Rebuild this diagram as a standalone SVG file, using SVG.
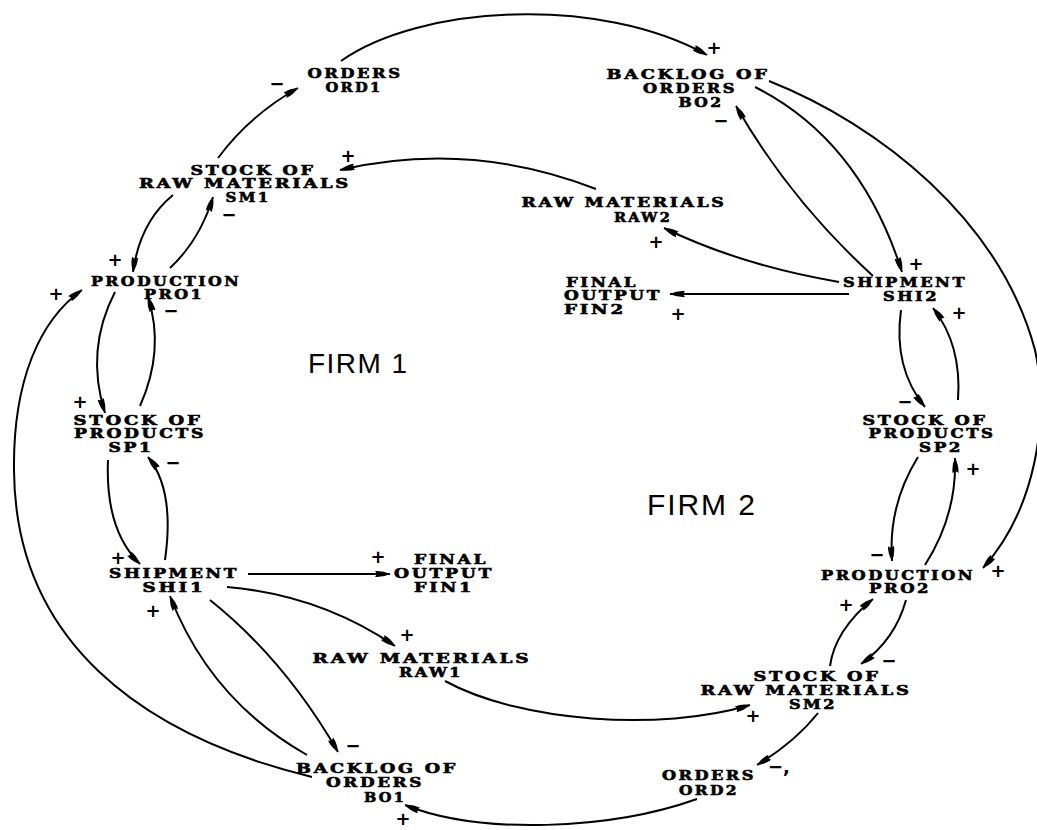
<svg xmlns="http://www.w3.org/2000/svg" width="1037" height="830" viewBox="0 0 1037 830">
<defs>
<marker id="ah" markerUnits="userSpaceOnUse" markerWidth="18" markerHeight="10" refX="15" refY="5" orient="auto">
<path d="M0,2 Q8,1.4 15,5 Q8,8.6 0,8 Q3,5 0,2 Z" fill="#000"/>
</marker>
<style>
.n{font-family:"DejaVu Serif","Liberation Serif",serif;font-weight:bold;font-size:13px;letter-spacing:2px;fill:#000;stroke:#000;stroke-width:0.6px;text-anchor:middle}
.s{font-family:"DejaVu Sans","Liberation Sans",sans-serif;font-weight:bold;font-size:18px;fill:#000;text-anchor:middle}
.f{font-family:"Liberation Sans","DejaVu Sans",sans-serif;fill:#000}
.c{fill:none;stroke:#000;stroke-width:2;marker-end:url(#ah)}
</style>
</defs>
<rect width="1037" height="830" fill="#fff"/>
<g id="connectors">
<path class="c" d="M341,61 C420,5 600,-5 707,55"/>
<path class="c" d="M218,158 Q250,115 298,88"/>
<path class="c" d="M596,189 Q470,140 340,170"/>
<path class="c" d="M173,195 Q140,222 133,272"/>
<path class="c" d="M170,268 Q200,240 213,197"/>
<path class="c" d="M312,777 C140,735 15,640 14,470 C13,380 40,320 82,290"/>
<path class="c" d="M115,292 Q85,350 105,413"/>
<path class="c" d="M140,406 Q165,350 148,297"/>
<path class="c" d="M108,460 Q105,530 140,564"/>
<path class="c" d="M165,560 Q175,490 148,457"/>
<path class="c" d="M248,574 L390,574"/>
<path class="c" d="M227,587 Q320,595 395,646"/>
<path class="c" d="M210,600 Q285,660 338,752"/>
<path class="c" d="M307,755 Q210,700 170,596"/>
<path class="c" d="M445,681 C520,722 660,732 750,705"/>
<path class="c" d="M697,799 C610,830 480,835 405,805"/>
<path class="c" d="M818,713 Q795,742 757,765"/>
<path class="c" d="M830,666 Q835,630 873,599"/>
<path class="c" d="M906,600 Q895,640 861,664"/>
<path class="c" d="M918,457 Q888,505 892,561"/>
<path class="c" d="M925,565 Q957,515 955,458"/>
<path class="c" d="M901,310 Q893,368 925,407"/>
<path class="c" d="M958,400 Q962,345 933,308"/>
<path class="c" d="M849,294 L670,294"/>
<path class="c" d="M839,282 Q740,265 664,228"/>
<path class="c" d="M873,276 Q790,200 736,106"/>
<path class="c" d="M755,87 Q860,140 902,272"/>
<path class="c" d="M769,81 C880,125 1000,220 1035,350 C1050,420 1035,510 983,568"/>
</g>
<g id="signs">
<text class="s" x="277" y="90">−</text>
<text class="s" x="348" y="162">+</text>
<text class="s" x="229" y="221">−</text>
<text class="s" x="115" y="266">+</text>
<text class="s" x="56" y="300">+</text>
<text class="s" x="171" y="317" font-size="16">−</text>
<text class="s" x="80" y="408">+</text>
<text class="s" x="173" y="469">−</text>
<text class="s" x="118" y="564">+</text>
<text class="s" x="153" y="617">+</text>
<text class="s" x="378" y="563">+</text>
<text class="s" x="407" y="641">+</text>
<text class="s" x="353" y="752">−</text>
<text class="s" x="403" y="825">+</text>
<text class="s" x="714" y="54">+</text>
<text class="s" x="721" y="127">−</text>
<text class="s" x="656" y="248">+</text>
<text class="s" x="916" y="270">+</text>
<text class="s" x="678" y="320">+</text>
<text class="s" x="959" y="319">+</text>
<text class="s" x="905" y="408">−</text>
<text class="s" x="973" y="475">+</text>
<text class="s" x="877" y="561">−</text>
<text class="s" x="998" y="577">+</text>
<text class="s" x="846" y="611">+</text>
<text class="s" x="889" y="667">−</text>
<text class="s" x="753" y="722">+</text>
<text class="s" x="779" y="773">−,</text>
</g>
<g id="ORD1">
<text class="n" x="355" y="78" textLength="95" lengthAdjust="spacingAndGlyphs">ORDERS</text>
<text class="n" x="354" y="92" textLength="57" lengthAdjust="spacingAndGlyphs">ORD1</text>
</g>
<g id="BO2">
<text class="n" x="688" y="79" textLength="163" lengthAdjust="spacingAndGlyphs">BACKLOG OF</text>
<text class="n" x="690" y="93" textLength="94" lengthAdjust="spacingAndGlyphs">ORDERS</text>
<text class="n" x="701" y="107" textLength="45" lengthAdjust="spacingAndGlyphs">BO2</text>
</g>
<g id="SM1">
<text class="n" x="253" y="175" textLength="125" lengthAdjust="spacingAndGlyphs">STOCK OF</text>
<text class="n" x="245" y="188" textLength="212" lengthAdjust="spacingAndGlyphs">RAW MATERIALS</text>
<text class="n" x="248" y="202" textLength="45" lengthAdjust="spacingAndGlyphs">SM1</text>
</g>
<g id="RAW2">
<text class="n" x="624" y="207" textLength="205" lengthAdjust="spacingAndGlyphs">RAW MATERIALS</text>
<text class="n" x="643" y="222" textLength="58" lengthAdjust="spacingAndGlyphs">RAW2</text>
</g>
<g id="PRO1">
<text class="n" x="166" y="286" textLength="150" lengthAdjust="spacingAndGlyphs">PRODUCTION</text>
<text class="n" x="174" y="299" textLength="60" lengthAdjust="spacingAndGlyphs">PRO1</text>
</g>
<g id="SHI2">
<text class="n" x="905" y="287" textLength="124" lengthAdjust="spacingAndGlyphs">SHIPMENT</text>
<text class="n" x="911" y="301" textLength="56" lengthAdjust="spacingAndGlyphs">SHI2</text>
</g>
<g id="FIN2">
<text class="n" x="602" y="287" textLength="72" lengthAdjust="spacingAndGlyphs">FINAL</text>
<text class="n" x="613" y="300" textLength="98" lengthAdjust="spacingAndGlyphs">OUTPUT</text>
<text class="n" x="595" y="314" textLength="62" lengthAdjust="spacingAndGlyphs">FIN2</text>
</g>
<g id="SP1">
<text class="n" x="138" y="425" textLength="129" lengthAdjust="spacingAndGlyphs">STOCK OF</text>
<text class="n" x="140" y="438" textLength="132" lengthAdjust="spacingAndGlyphs">PRODUCTS</text>
<text class="n" x="131" y="452" textLength="45" lengthAdjust="spacingAndGlyphs">SP1</text>
</g>
<g id="SP2">
<text class="n" x="925" y="425" textLength="125" lengthAdjust="spacingAndGlyphs">STOCK OF</text>
<text class="n" x="932" y="438" textLength="127" lengthAdjust="spacingAndGlyphs">PRODUCTS</text>
<text class="n" x="941" y="452" textLength="44" lengthAdjust="spacingAndGlyphs">SP2</text>
</g>
<g id="SHI1">
<text class="n" x="174" y="578" textLength="130" lengthAdjust="spacingAndGlyphs">SHIPMENT</text>
<text class="n" x="174" y="592" textLength="63" lengthAdjust="spacingAndGlyphs">SHI1</text>
</g>
<g id="FIN1">
<text class="n" x="451" y="564" textLength="74" lengthAdjust="spacingAndGlyphs">FINAL</text>
<text class="n" x="444" y="578" textLength="100" lengthAdjust="spacingAndGlyphs">OUTPUT</text>
<text class="n" x="444" y="592" textLength="60" lengthAdjust="spacingAndGlyphs">FIN1</text>
</g>
<g id="RAW1">
<text class="n" x="422" y="663" textLength="219" lengthAdjust="spacingAndGlyphs">RAW MATERIALS</text>
<text class="n" x="431" y="677" textLength="64" lengthAdjust="spacingAndGlyphs">RAW1</text>
</g>
<g id="PRO2">
<text class="n" x="898" y="580" textLength="154" lengthAdjust="spacingAndGlyphs">PRODUCTION</text>
<text class="n" x="900" y="593" textLength="62" lengthAdjust="spacingAndGlyphs">PRO2</text>
</g>
<g id="SM2">
<text class="n" x="817" y="681" textLength="127" lengthAdjust="spacingAndGlyphs">STOCK OF</text>
<text class="n" x="806" y="695" textLength="211" lengthAdjust="spacingAndGlyphs">RAW MATERIALS</text>
<text class="n" x="813" y="709" textLength="48" lengthAdjust="spacingAndGlyphs">SM2</text>
</g>
<g id="ORD2">
<text class="n" x="709" y="780" textLength="94" lengthAdjust="spacingAndGlyphs">ORDERS</text>
<text class="n" x="709" y="795" textLength="60" lengthAdjust="spacingAndGlyphs">ORD2</text>
</g>
<g id="BO1">
<text class="n" x="377" y="773" textLength="162" lengthAdjust="spacingAndGlyphs">BACKLOG OF</text>
<text class="n" x="375" y="787" textLength="98" lengthAdjust="spacingAndGlyphs">ORDERS</text>
<text class="n" x="385" y="802" textLength="42" lengthAdjust="spacingAndGlyphs">BO1</text>
</g>
<g id="FIRM1">
<text class="f" x="308" y="373" font-size="28" textLength="99" lengthAdjust="spacing">FIRM 1</text>
</g>
<g id="FIRM2">
<text class="f" x="647" y="515" font-size="30" textLength="108" lengthAdjust="spacing">FIRM 2</text>
</g>
</svg>
